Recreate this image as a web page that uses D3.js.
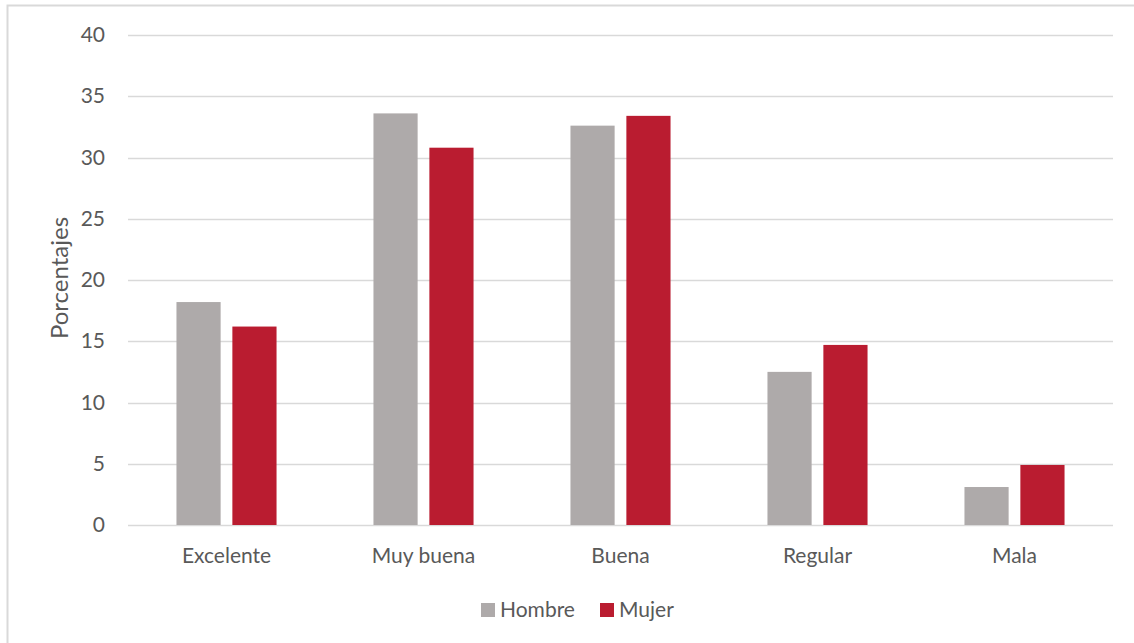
<!DOCTYPE html>
<html>
<head>
<meta charset="utf-8">
<script src="https://cdn.jsdelivr.net/npm/d3@7"></script>
<style>
  html, body { margin: 0; padding: 0; background: #fff; }
  svg { display: block; }
  text { font-family: Lato, "Open Sans", sans-serif; fill: #595959; }
</style>
</head>
<body>
<svg id="chart" width="1134" height="643"></svg>
<script>
// Autovaloración de salud por sexo (%)
const categories = ["Excelente", "Muy buena", "Buena", "Regular", "Mala"];
const seriesNames = ["Hombre", "Mujer"];
const hombre = [18.2, 33.6, 32.6, 12.5, 3.1];
const mujer = [16.2, 30.8, 33.4, 14.7, 4.9];
const yTicks = [0, 5, 10, 15, 20, 25, 30, 35, 40];
const colors = ["#AEAAAA", "#BA1C30"];

const svg = d3.select("#chart");
const W = 1134, H = 643;
const margin = { left: 128, right: 21, top: 35, bottom: 118 };
const innerW = W - margin.left - margin.right;
const innerH = H - margin.top - margin.bottom;
const fontSize = 21;

// Frame (left and top edges visible)
svg.append("path")
  .attr("d", `M7.5,${H} V5.5 H${W}`)
  .attr("fill", "none")
  .attr("stroke", "#D9D9D9")
  .attr("stroke-width", 2);

const g = svg.append("g").attr("transform", `translate(${margin.left},${margin.top})`);

const x0 = d3.scaleBand().domain(categories).range([0, innerW]).paddingInner(0.492).paddingOuter(0.246);
const x1 = d3.scaleBand().domain(seriesNames).range([0, x0.bandwidth()]).paddingInner(0.21);
const y = d3.scaleLinear().domain([0, 40]).range([innerH, 0]);

// Gridlines
g.append("g")
  .selectAll("line")
  .data(yTicks)
  .join("line")
  .attr("x1", 0).attr("x2", innerW)
  .attr("y1", d => Math.round(y(d)) + 0.5).attr("y2", d => Math.round(y(d)) + 0.5)
  .attr("stroke", "#D9D9D9")
  .attr("stroke-width", 1.5);

// Y axis labels
const yAxis = d3.axisLeft(y).tickValues(yTicks).tickSize(0).tickPadding(23);
const ya = g.append("g").call(yAxis);
ya.select(".domain").remove();
ya.selectAll("text").attr("font-size", fontSize).style("font-family", "Lato, sans-serif").attr("fill", "#595959");

// X axis labels
const xAxis = d3.axisBottom(x0).tickSize(0).tickPadding(23);
const xa = g.append("g").attr("transform", `translate(0,${innerH})`).call(xAxis);
xa.select(".domain").remove();
xa.selectAll("text").attr("font-size", fontSize).style("font-family", "Lato, sans-serif").attr("fill", "#595959");

// Bars
const rows = categories.map((c, i) => ({ cat: c, values: [hombre[i], mujer[i]] }));
g.append("g")
  .selectAll("g")
  .data(rows)
  .join("g")
  .attr("transform", d => `translate(${x0(d.cat)},0)`)
  .selectAll("rect")
  .data(d => d.values.map((v, j) => ({ s: seriesNames[j], v, j })))
  .join("rect")
  .attr("x", d => x1(d.s))
  .attr("width", x1.bandwidth())
  .attr("y", d => y(d.v))
  .attr("height", d => innerH - y(d.v))
  .attr("fill", d => colors[d.j]);

// Y axis title
svg.append("text")
  .attr("transform", "translate(58,278) rotate(-90)")
  .attr("text-anchor", "middle")
  .attr("dominant-baseline", "central")
  .attr("font-size", 24)
  .text("Porcentajes");

// Legend
const legend = svg.append("g").attr("transform", "translate(481,603)");
const legendPos = [0, 119];
seriesNames.forEach((name, i) => {
  const item = legend.append("g").attr("transform", `translate(${legendPos[i]},0)`);
  item.append("rect").attr("width", 14).attr("height", 14).attr("fill", colors[i]);
  item.append("text").attr("x", 19).attr("y", 14).attr("font-size", fontSize).text(name);
});
</script>
</body>
</html>
